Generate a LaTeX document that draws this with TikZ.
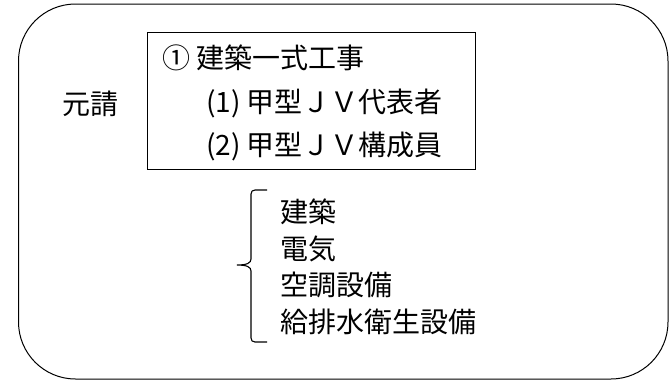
\documentclass[tikz,border=0pt]{standalone}
\usepackage{fontspec}
\setmainfont{Noto Sans CJK JP}
\begin{document}
\begin{tikzpicture}[x=1pt,y=-1pt,
  lbl/.style={anchor=west,inner sep=0pt,font=\fontsize{28}{30}\selectfont},
  frame/.style={draw=black,line width=1pt}]
\useasboundingbox (0,0) rectangle (669,381);
% outer rounded frame
\draw[frame,rounded corners=57pt] (18.5,4) rectangle (668,379);
% inner box
\node[draw=black,line width=1pt,minimum width=328pt,minimum height=137pt,anchor=north west,inner sep=0pt] (box) at (147,32) {};
\node[lbl] (l1) at (162,58) {① 建築一式工事};
\node[lbl] (l2) at (206,103) {(1) 甲型ＪＶ代表者};
\node[lbl] (l3) at (206,146) {(2) 甲型ＪＶ構成員};
\node[lbl] (moto) at (62,104) {元請};
% list
\node[lbl] (k1) at (280,212) {建築};
\node[lbl] (k2) at (280,248.5) {電気};
\node[lbl] (k3) at (280,285) {空調設備};
\node[lbl] (k4) at (280,321.5) {給排水衛生設備};
% brace
\coordinate (bt) at (267,190);
\coordinate (bb) at (267,342);
\coordinate (tip) at (237,265);
\draw[line width=1.1pt] (bt) -- (255,190) .. controls (252.5,190) and (251,191.5) .. (251,194) -- (251,259)
  .. controls (251,263) and (247,265) .. (tip)
  .. controls (247,265) and (251,267) .. (251,271) -- (251,338)
  .. controls (251,340.5) and (252.5,342) .. (255,342) -- (bb);
\end{tikzpicture}
\end{document}
